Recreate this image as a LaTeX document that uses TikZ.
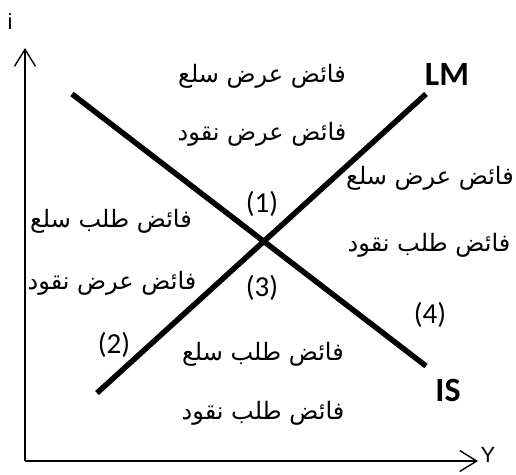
\documentclass[tikz,border=0pt]{standalone}
\usepackage{fontspec}
\setmainfont{Carlito}
\newfontfamily\arabicfont[Script=Arabic]{DejaVu Sans}
\newfontfamily\axisfont{Liberation Sans}
\TeXXeTstate=1
\usetikzlibrary{arrows.meta}
\tikzset{
  axisline/.style={line width=1.4pt, -{Straight Barb[length=17pt,width=21pt,line width=1.4pt]}},
  curve/.style={line width=5.5pt},
  artext/.style={inner sep=0pt, font=\arabicfont\fontsize{24}{28}\selectfont},
  numtext/.style={inner sep=0pt, font=\fontsize{29}{32}\selectfont},
  curvelabel/.style={inner sep=0pt, font=\bfseries\fontsize{34}{36}\selectfont},
  axlabel/.style={inner sep=0pt, font=\axisfont\fontsize{22}{24}\selectfont}
}
\begin{document}
\begin{tikzpicture}[x=1pt,y=-1pt]
\useasboundingbox (0,0) rectangle (516,474);
% axes
\coordinate (o) at (25,461);
\coordinate (ytip) at (25,48);
\coordinate (xtip) at (478,461);
\draw[axisline] (o) -- (ytip);
\draw[axisline] (o) -- (xtip);
\node[axlabel] (ilab) at (10,22) {i};
\node[axlabel] (ylab) at (488,455) {Y};
% curves
\coordinate (is1) at (72,94);
\coordinate (is2) at (426,366);
\coordinate (lm1) at (97,393);
\coordinate (lm2) at (426,94);
\draw[curve] (is1) -- (is2);
\draw[curve] (lm1) -- (lm2);
\node[curvelabel] (lm) at (447,74) {LM};
\node[curvelabel] (is) at (448,390) {IS};
% region numbers
\node[numtext] (n1) at (262,204) {(1)};
\node[numtext] (n3) at (262,288) {(3)};
\node[numtext] (n4) at (430,315) {(4)};
\node[numtext] (n2) at (114,345) {(2)};
% arabic texts
\node[artext] (t1) at (262,76) {\beginR فائض عرض سلع\endR};
\node[artext] (t2) at (262,134) {\beginR فائض عرض نقود\endR};
\node[artext] (t3) at (430,178) {\beginR فائض عرض سلع\endR};
\node[artext] (t4) at (429,245) {\beginR فائض طلب نقود\endR};
\node[artext] (t5) at (111,221) {\beginR فائض طلب سلع\endR};
\node[artext] (t6) at (112,283) {\beginR فائض عرض نقود\endR};
\node[artext] (t7) at (263,354) {\beginR فائض طلب سلع\endR};
\node[artext] (t8) at (263,413) {\beginR فائض طلب نقود\endR};
\end{tikzpicture}
\end{document}
